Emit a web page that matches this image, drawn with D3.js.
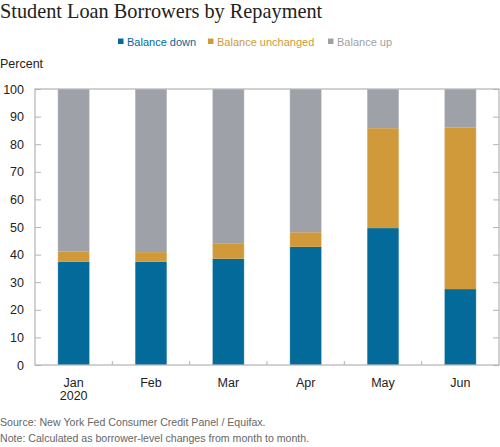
<!DOCTYPE html>
<html><head><meta charset="utf-8">
<script src="https://cdn.jsdelivr.net/npm/d3@7"></script>
<style>body{margin:0;background:#fff}</style>
</head><body>
<svg id="c" width="500" height="447"></svg>
<script>
const months = ["Jan", "Feb", "Mar", "Apr", "May", "Jun"];
const monthSub = ["2020", "", "", "", "", ""];
const seriesNames = ["Balance down", "Balance unchanged", "Balance up"];
const balanceDown = [37.4, 37.4, 38.5, 42.8, 49.6, 27.5];
const balanceUnchanged = [3.8, 3.5, 5.4, 5.3, 36.2, 58.6];
const balanceUp = balanceDown.map((d, i) => 100 - d - balanceUnchanged[i]);
const yTicks = [0, 10, 20, 30, 40, 50, 60, 70, 80, 90, 100];
const colors = ["#036a9a", "#d0993a", "#9ea1a8"];

const svg = d3.select("#c");
const font = "'Liberation Sans', Arial, sans-serif";
const L = 35, R = 499, T = 89, B = 365;

const x = d3.scaleBand().domain(months).range([L, R]).paddingInner(0.59).paddingOuter(0.295);
const xs = d3.scaleBand().domain(months).range([L, R]);
const y = d3.scaleLinear().domain([0, 100]).range([B, T]);

const rows = months.map((m, i) => ({ m, down: balanceDown[i], unch: balanceUnchanged[i], up: balanceUp[i] }));
const stack = d3.stack().keys(["down", "unch", "up"])(rows);

svg.append("text").attr("x", 0).attr("y", 18).attr("font-family", "'Liberation Serif', Georgia, serif")
  .attr("font-size", 20.3).attr("fill", "#222").text("Student Loan Borrowers by Repayment");

// legend
const legX = [118, 208, 328];
seriesNames.forEach((n, i) => {
  svg.append("rect").attr("x", legX[i]).attr("y", 38.5).attr("width", 5.5).attr("height", 5.5).attr("fill", colors[i]);
  svg.append("text").attr("x", legX[i] + 9).attr("y", 45.5).attr("font-family", font).attr("font-size", 11)
    .attr("fill", colors[i]).text(n);
});

svg.append("text").attr("x", 0).attr("y", 68).attr("font-family", font).attr("font-size", 12.5).attr("fill", "#222").text("Percent");

// bars
stack.forEach((s, k) => {
  svg.append("g").selectAll("rect").data(s).join("rect")
    .attr("x", d => x(d.data.m)).attr("width", x.bandwidth())
    .attr("y", d => y(d[1])).attr("height", d => y(d[0]) - y(d[1]))
    .attr("fill", colors[k]);
});
// light bar edges
svg.append("g").selectAll("rect").data(rows).join("rect")
  .attr("x", d => x(d.m)).attr("width", x.bandwidth()).attr("y", y(100)).attr("height", y(0) - y(100))
  .attr("fill", "none").attr("stroke", "#ffffff").attr("stroke-opacity", 0.35).attr("stroke-width", 0.8);

// frame
const axc = "#b3b3b3";
svg.append("rect").attr("x", L).attr("y", T).attr("width", R - L).attr("height", B - T)
  .attr("fill", "none").attr("stroke", axc).attr("stroke-width", 1.2);

// y axis left
const yl = svg.append("g").attr("transform", `translate(${L},0)`)
  .call(d3.axisLeft(y).tickValues(yTicks).tickSize(-6).tickPadding(11));
yl.select(".domain").remove();
yl.selectAll("line").attr("stroke", axc);
yl.selectAll("text").attr("font-family", font).attr("font-size", 12.5).attr("fill", "#222");
// y axis right
const yr = svg.append("g").attr("transform", `translate(${R},0)`)
  .call(d3.axisRight(y).tickValues(yTicks).tickSize(-6).tickFormat(""));
yr.select(".domain").remove();
yr.selectAll("line").attr("stroke", axc);

// x axis
const xa = svg.append("g").attr("transform", `translate(0,${B})`)
  .call(d3.axisBottom(x).tickSize(0).tickPadding(13));
xa.select(".domain").remove();
xa.selectAll("text").attr("font-family", font).attr("font-size", 12.5).attr("fill", "#222");
svg.append("g").selectAll("text").data(months.map((m, i) => ({ m, s: monthSub[i] })).filter(d => d.s)).join("text")
  .attr("x", d => x(d.m) + x.bandwidth() / 2).attr("y", 400).attr("text-anchor", "middle")
  .attr("font-family", font).attr("font-size", 12.5).attr("fill", "#222").text(d => d.s);
// x ticks between categories
svg.append("g").selectAll("line").data(months.slice(1)).join("line")
  .attr("x1", d => xs(d)).attr("x2", d => xs(d)).attr("y1", B).attr("y2", B - 4).attr("stroke", axc);

svg.append("text").attr("x", 0).attr("y", 426).attr("font-family", font).attr("font-size", 10.6).attr("fill", "#666")
  .text("Source: New York Fed Consumer Credit Panel / Equifax.");
svg.append("text").attr("x", 0).attr("y", 442).attr("font-family", font).attr("font-size", 10.6).attr("fill", "#666")
  .text("Note: Calculated as borrower-level changes from month to month.");
</script>
</body></html>
